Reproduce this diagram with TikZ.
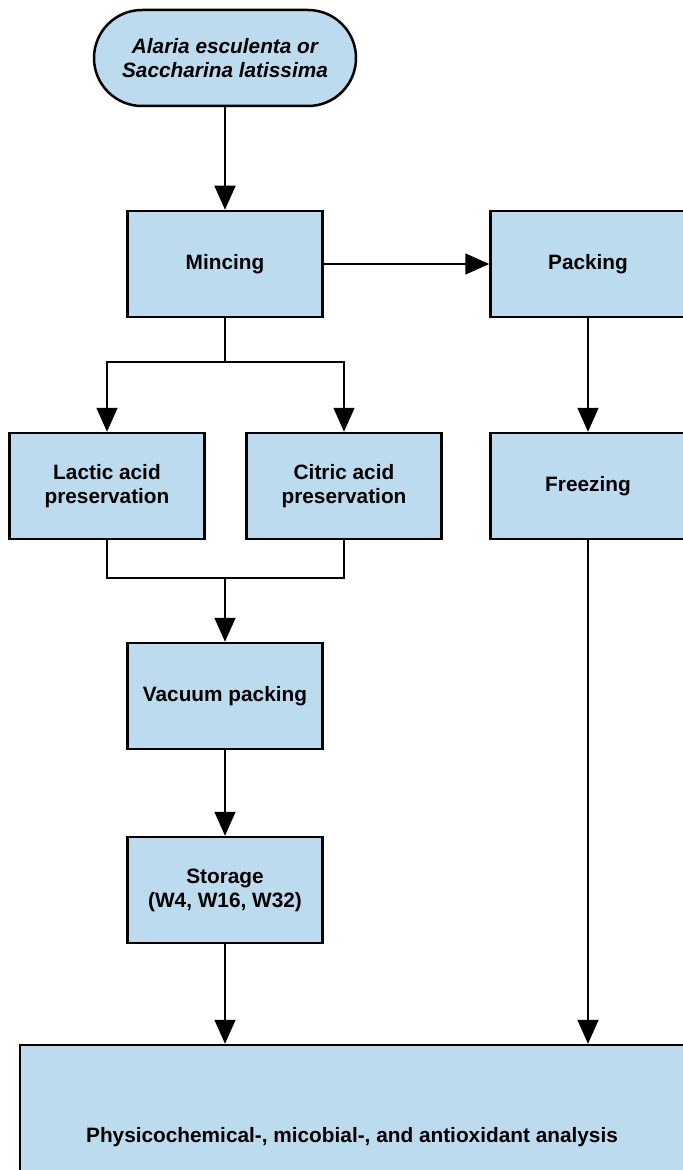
\documentclass[tikz,border=0pt]{standalone}
\usepackage{fontspec}
\setmainfont{Liberation Sans}
\usetikzlibrary{arrows.meta,shadows}
\definecolor{boxblue}{RGB}{189,219,239}
\tikzset
{
    flownode/.style  = {draw=black, line width=1.25pt, fill=boxblue, align=center, font=\bfseries\fontsize{10.4}{12}\selectfont, drop shadow={shadow xshift=0.6pt, shadow yshift=-0.6pt, opacity=0.3}},
    procnode/.style  = {flownode, rectangle, minimum width=97.5pt, minimum height=53pt},
    startnode/.style = {flownode, rectangle, rounded corners=24pt, minimum width=131pt, minimum height=48pt, font=\bfseries\itshape\fontsize{10.4}{12}\selectfont},
    link/.style      = {line width=0.8pt, draw=black},
    flow/.style      = {link, -{Triangle[length=12pt,width=10.5pt]}}
}
\begin{document}
\begin{tikzpicture}[x=0.5pt, y=-0.5pt]
    \useasboundingbox (0,0) rectangle (683,1170);
    \clip (0,0) rectangle (683,1170);
    \node [startnode] (start) at (225,58) {Alaria esculenta or\\Saccharina latissima};
    \node [procnode] (mincing) at (225,264) {Mincing};
    \node [procnode] (packing) at (588,264) {Packing};
    \node [procnode] (lactic) at (107,486) {Lactic acid\\preservation};
    \node [procnode] (citric) at (344,486) {Citric acid\\preservation};
    \node [procnode] (freezing) at (588,486) {Freezing};
    \node [procnode] (vacuum) at (225,696) {Vacuum packing};
    \node [procnode] (storage) at (225,890) {Storage\\(W4, W16, W32)};
    \node [flownode, rectangle, minimum width=332pt, minimum height=92pt] (analysis) at (352,1137) {Physicochemical-, micobial-, and antioxidant analysis};

    \coordinate (split) at (225,362);
    \coordinate (merge) at (225,578);

    \draw [flow] (start) -- (mincing);
    \draw [flow] (mincing) -- (packing);
    \draw [flow] (packing) -- (freezing);
    \draw [link] (mincing) -- (split);
    \draw [flow] (split) -| (lactic);
    \draw [flow] (split) -| (citric);
    \draw [link] (lactic) |- (merge) -| (citric);
    \draw [flow] (merge) -- (vacuum);
    \draw [flow] (vacuum) -- (storage);
    \draw [flow] (storage) -- (storage.south |- analysis.north);
    \draw [flow] (freezing) -- (freezing.south |- analysis.north);
\end{tikzpicture}
\end{document}
